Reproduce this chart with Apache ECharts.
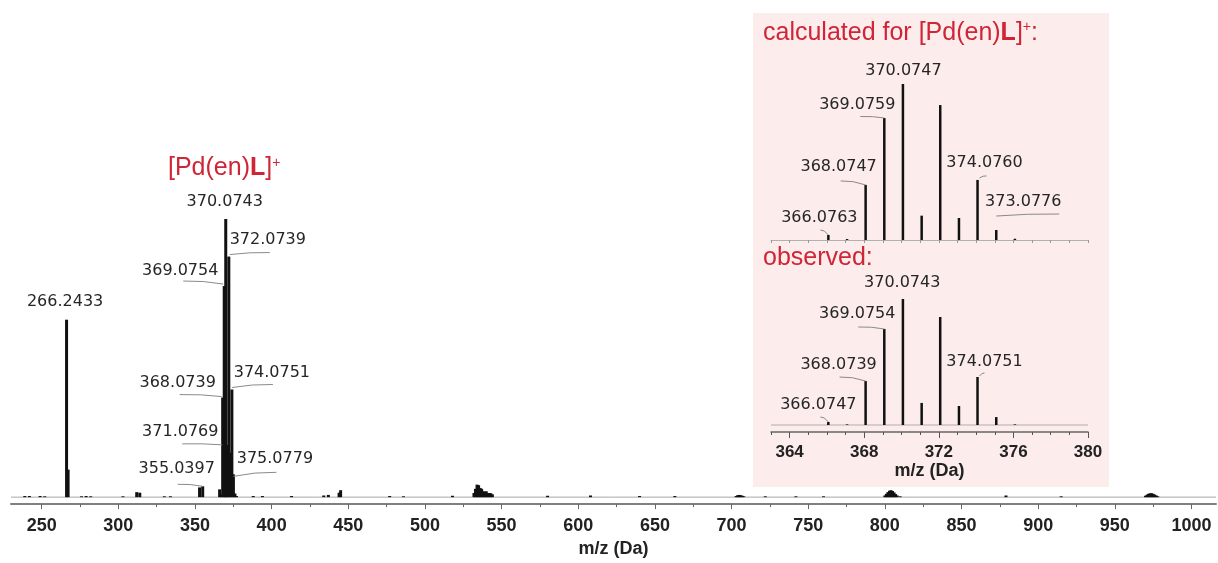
<!DOCTYPE html>
<html><head><meta charset="utf-8">
<script src="https://cdn.jsdelivr.net/npm/echarts@6/dist/echarts.min.js"></script>
<style>html,body{margin:0;padding:0;background:#fff}#c{width:1218px;height:563px}</style>
</head><body><div id="c"></div>
<script>
// ---------- DATA ----------
// main spectrum (m/z, relative intensity %)
const mainMz = [239, 242, 249, 252, 266.2433, 267.25, 276, 279, 282, 303, 312, 314, 330, 334, 353.0, 355.0397,
  366.08, 367.08, 368.0739, 369.0754, 370.0743, 371.0769, 372.0739, 373.08, 374.0751, 375.0779, 376.08, 377.08,
  388, 394, 413, 434, 437, 444, 445, 477, 486, 518,
  532, 533, 534, 535, 536, 537, 538, 539, 540, 541, 542, 543, 544,
  580, 608, 640, 663, 703, 704, 705, 706, 707, 708, 722, 742, 760,
  800, 801, 802, 803, 804, 805, 806, 807, 808, 810, 879, 915,
  970, 971, 972, 973, 974, 975, 976, 977, 978];
const mainInt = [0.4, 0.4, 0.4, 0.3, 63.8, 9.9, 0.3, 0.4, 0.3, 0.3, 1.8, 1.6, 0.3, 0.3, 3.5, 3.9,
  2.8, 1.0, 35.8, 75.9, 100, 18.8, 86.5, 16, 38.7, 8.2, 1.3, 0.4,
  0.4, 0.4, 0.4, 0.6, 0.8, 1.6, 2.5, 0.4, 0.3, 0.5,
  1.5, 3.0, 4.5, 4.3, 3.3, 3.0, 2.1, 2.0, 2.1, 1.5, 1.5, 1.4, 1.0,
  0.5, 0.6, 0.4, 0.4, 0.4, 0.7, 0.8, 0.7, 0.5, 0.3, 0.3, 0.3, 0.3,
  0.6, 1.2, 1.8, 2.3, 2.5, 2.2, 1.7, 1.1, 0.6, 0.3, 0.6, 0.3,
  0.5, 0.9, 1.2, 1.4, 1.4, 1.2, 0.9, 0.6, 0.3];
const mainTickLabels = [250, 300, 350, 400, 450, 500, 550, 600, 650, 700, 750, 800, 850, 900, 950, 1000];
const mainMinorTicks = [275, 325, 375, 425, 475, 525, 575, 625, 675, 725, 775, 825, 875, 925, 975];
const mainLabelMz = [266.2433, 370.0743, 372.0739, 369.0754, 368.0739, 374.0751, 371.0769, 375.0779, 355.0397];
const mainLabelText = ['266.2433', '370.0743', '372.0739', '369.0754', '368.0739', '374.0751', '371.0769', '375.0779', '355.0397'];

// inset: calculated isotope pattern
const calcMz = [366.0763, 367.08, 368.0747, 369.0759, 370.0747, 371.08, 372.075, 373.08, 374.0760, 375.08, 376.08];
const calcInt = [3.2, 0.6, 35.3, 78.2, 100, 15.6, 86.5, 14.1, 38.5, 6.4, 0.8];
const calcLabelMz = [370.0747, 369.0759, 368.0747, 366.0763, 374.0760, 375.08];
const calcLabelText = ['370.0747', '369.0759', '368.0747', '366.0763', '374.0760', '373.0776'];

// inset: observed isotope pattern
const obsMz = [366.0747, 367.08, 368.0739, 369.0754, 370.0743, 371.08, 372.074, 373.08, 374.0751, 375.08, 376.08];
const obsInt = [2.4, 0.5, 34.9, 76.2, 100, 17.5, 85.7, 15.1, 38.1, 6.3, 0.5];
const obsLabelMz = [370.0743, 369.0754, 368.0739, 366.0747, 374.0751];
const obsLabelText = ['370.0743', '369.0754', '368.0739', '366.0747', '374.0751'];

const insetTickLabels = [364, 368, 372, 376, 380];
const insetMinorTicks = [363, 365, 366, 367, 369, 370, 371, 373, 374, 375, 377, 378, 379];

// ---------- LAYOUT (label offsets in px relative to peak top) ----------
const mainLabelLayout = [
  {dx: -1.5, dy: -18},
  {dx: -1, dy: -17},
  {dx: 39, dy: -17, lead: [[1, -2], [41, -4]]},
  {dx: -44, dy: -15, lead: [[-41, -5], [-1, -2]]},
  {dx: -45, dy: -15, lead: [[-43, -3], [-1, -1]]},
  {dx: 40, dy: -17, lead: [[0, -2], [41, -5]]},
  {dx: -47, dy: -13, lead: [[-45, -1], [-5, 0]]},
  {dx: 41.5, dy: -15, lead: [[0, 2], [43, -2]]},
  {dx: -26, dy: -17, lead: [[-25, -2], [0, 0]]}
];
const calcLabelLayout = [
  {dx: 0.5, dy: -13.5},
  {dx: -27, dy: -13, lead: [[-24, -1.5], [0, 0]]},
  {dx: -27, dy: -18, lead: [[-25, -4], [0, 0]]},
  {dx: -9, dy: -17, lead: [[-8, -5], [0, 0]]},
  {dx: 7, dy: -17, lead: [[2, -2], [9, -4]]},
  {dx: 27, dy: -28, lead: [[0, -14], [63, -16]]}
];
const obsLabelLayout = [
  {dx: -0.7, dy: -16},
  {dx: -27, dy: -15, lead: [[-26, -2], [0, 0]]},
  {dx: -27, dy: -16, lead: [[-26, -4], [0, 0]]},
  {dx: -10, dy: -17, lead: [[-8, -5], [0, 0]]},
  {dx: 7, dy: -15, lead: [[2, -1], [7, -4]]}
];

const RED = '#cf2536';
const numFont = {fontSize: 16, fontFamily: 'DejaVu Sans', fill: '#262626'};

function anno(labelMz, labelText, layout, peakMz, peakInt, xi, yi) {
  return {
    type: 'custom', xAxisIndex: xi, yAxisIndex: yi, clip: false, silent: true, z: 4,
    data: labelMz.map((m, i) => [m, peakInt[peakMz.indexOf(m)], i]),
    renderItem: function (params, api) {
      const i = api.value(2);
      const p = api.coord([api.value(0), api.value(1)]);
      const L = layout[i];
      const children = [{
        type: 'text',
        style: Object.assign({text: labelText[i], x: p[0] + L.dx, y: p[1] + L.dy, align: 'center', verticalAlign: 'middle'}, numFont)
      }];
      if (L.lead) {
        const s = L.lead[0], e = L.lead[1];
        const x1 = p[0] + s[0], y1 = p[1] + s[1], x2 = p[0] + e[0], y2 = p[1] + e[1];
        children.push({
          type: 'bezierCurve',
          shape: {x1: x1, y1: y1, x2: x2, y2: y2, cpx1: (x1 + x2) / 2, cpy1: Math.min(y1, y2) - 0.5},
          style: {stroke: '#8a8a8a', lineWidth: 1, fill: null}
        });
      }
      return {type: 'group', children: children};
    }
  };
}

function bars(mz, it, xi, yi, w) {
  return {
    type: 'bar', xAxisIndex: xi, yAxisIndex: yi, barWidth: w, silent: true, z: 3,
    itemStyle: {color: '#111'},
    data: mz.map((m, i) => [m, it[i]])
  };
}

function baseline(xmin, xmax, xi, yi, color) {
  return {
    type: 'line', xAxisIndex: xi, yAxisIndex: yi, symbol: 'none', silent: true, z: 2,
    lineStyle: {color: color, width: 1},
    data: [[xmin, 0], [xmax, 0]]
  };
}

const chart = echarts.init(document.getElementById('c'), null, {renderer: 'canvas'});
const tickFont = {fontFamily: 'Liberation Sans', fontWeight: 'bold', color: '#222', formatter: v => String(v)};

chart.setOption({
  animation: false,
  backgroundColor: '#fff',
  grid: [
    {left: 11, right: 2, top: 219, bottom: 55},
    {left: 771, width: 317, top: 84, height: 156},
    {left: 771, width: 317, top: 299, height: 133}
  ],
  xAxis: [
    {gridIndex: 0, type: 'value', min: 230, max: 1016, position: 'bottom',
     axisLine: {onZero: false, lineStyle: {color: '#808080', width: 2}},
     axisTick: {customValues: mainTickLabels, length: 5, lineStyle: {color: '#666', width: 1}},
     axisLabel: Object.assign({customValues: mainTickLabels, fontSize: 18, margin: 13}, tickFont),
     splitLine: {show: false},
     name: 'm/z (Da)', nameLocation: 'middle', nameGap: 32,
     nameTextStyle: {fontFamily: 'Liberation Sans', fontWeight: 'bold', fontSize: 18, color: '#222'}},
    {gridIndex: 0, type: 'value', min: 230, max: 1016, position: 'bottom',
     axisLine: {show: false, onZero: false},
     axisTick: {customValues: mainMinorTicks, length: 3, lineStyle: {color: '#666', width: 1}},
     axisLabel: {show: false}, splitLine: {show: false}},
    {gridIndex: 1, type: 'value', min: 363, max: 380, position: 'bottom',
     axisLine: {onZero: false, lineStyle: {color: '#b0b0b0', width: 1}},
     axisTick: {customValues: insetMinorTicks.concat(insetTickLabels), length: 3, lineStyle: {color: '#999'}},
     axisLabel: {show: false}, splitLine: {show: false}},
    {gridIndex: 2, type: 'value', min: 363, max: 380, position: 'bottom',
     axisLine: {onZero: false, lineStyle: {color: '#666', width: 1.5}},
     axisTick: {customValues: insetTickLabels, length: 6, lineStyle: {color: '#555'}},
     axisLabel: Object.assign({customValues: insetTickLabels, fontSize: 17, margin: 12}, tickFont),
     splitLine: {show: false},
     name: 'm/z (Da)', nameLocation: 'middle', nameGap: 29,
     nameTextStyle: {fontFamily: 'Liberation Sans', fontWeight: 'bold', fontSize: 18, color: '#222'}},
    {gridIndex: 2, type: 'value', min: 363, max: 380, position: 'bottom',
     axisLine: {show: false, onZero: false},
     axisTick: {customValues: insetMinorTicks, length: 3, lineStyle: {color: '#555'}},
     axisLabel: {show: false}, splitLine: {show: false}}
  ],
  yAxis: [
    {gridIndex: 0, type: 'value', min: -2.5, max: 100, show: false},
    {gridIndex: 1, type: 'value', min: 0, max: 100, show: false},
    {gridIndex: 2, type: 'value', min: -5.56, max: 100, show: false}
  ],
  graphic: [
    {type: 'rect', z: -100, silent: true, shape: {x: 753, y: 13, width: 356, height: 474}, style: {fill: '#fcecec'}},
    {type: 'text', z: 100, silent: true, style: {
      x: 168, y: 168.5, verticalAlign: 'middle', align: 'left',
      text: '{n|[Pd(en)}{b|L}{n|]}{s|+}',
      rich: {
        n: {fontSize: 25, fontFamily: 'Liberation Sans', fill: RED},
        b: {fontSize: 25, fontFamily: 'Liberation Sans', fontWeight: 'bold', fill: RED},
        s: {fontSize: 14, fontFamily: 'Liberation Sans', fill: RED, verticalAlign: 'top'}
      }}},
    {type: 'text', z: 100, silent: true, style: {
      x: 763, y: 33, verticalAlign: 'middle', align: 'left',
      text: '{n|calculated for [Pd(en)}{b|L}{n|]}{s|+}{n|:}',
      rich: {
        n: {fontSize: 25, fontFamily: 'Liberation Sans', fill: RED},
        b: {fontSize: 25, fontFamily: 'Liberation Sans', fontWeight: 'bold', fill: RED},
        s: {fontSize: 14, fontFamily: 'Liberation Sans', fill: RED, verticalAlign: 'top'}
      }}},
    {type: 'text', z: 100, silent: true, style: {
      x: 763, y: 258, verticalAlign: 'middle', align: 'left',
      text: 'observed:', fontSize: 25, fontFamily: 'Liberation Sans', fill: RED}}
  ],
  series: [
    baseline(230, 1016, 0, 0, '#a8a8a8'),
    bars(mainMz, mainInt, 0, 0, 3),
    anno(mainLabelMz, mainLabelText, mainLabelLayout, mainMz, mainInt, 0, 0),
    bars(calcMz, calcInt, 2, 1, 2.5),
    anno(calcLabelMz, calcLabelText, calcLabelLayout, calcMz, calcInt, 2, 1),
    baseline(363, 380, 3, 2, '#b0b0b0'),
    bars(obsMz, obsInt, 3, 2, 2.5),
    anno(obsLabelMz, obsLabelText, obsLabelLayout, obsMz, obsInt, 3, 2)
  ]
});
</script>
</body></html>
